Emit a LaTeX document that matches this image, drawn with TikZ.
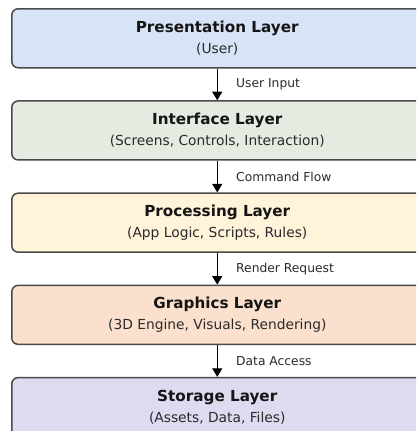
\documentclass[tikz,border=0pt]{standalone}
\usepackage{fontspec}
\setmainfont{DejaVu Sans}
\usetikzlibrary{arrows.meta}
\definecolor{bordc}{HTML}{4A4A4A}
\definecolor{cA}{HTML}{D7E3F6}
\definecolor{cB}{HTML}{E4ECE1}
\definecolor{cC}{HTML}{FFF3D9}
\definecolor{cD}{HTML}{FBE1CD}
\definecolor{cE}{HTML}{DDDBF0}
\definecolor{txt}{HTML}{151515}
\definecolor{subt}{HTML}{2A2A2A}
\newcommand{\ttl}[1]{{\fontsize{15.2}{18}\selectfont\bfseries #1}}
\newcommand{\sbt}[1]{{\fontsize{13.8}{18}\selectfont\color{subt} #1}}
\begin{document}
\begin{tikzpicture}[x=1pt,y=-1pt,
  layerbox/.style={draw=bordc, line width=1.5pt, rounded corners=6.5pt,
    minimum width=411pt, minimum height=59pt, align=center, inner sep=0pt,
    anchor=north west, text=txt, font=\fontsize{15}{18}\selectfont},
  flow/.style={-{Triangle[length=8.5pt,width=10pt]}, line width=1.2pt, draw=black},
  lbl/.style={font=\fontsize{12.3}{14}\selectfont, text=subt, right=15pt, midway}]
\useasboundingbox (0,0) rectangle (416,431);
\fill[white] (0,0) rectangle (416,431);
\begin{scope}
\clip (0,0) rectangle (416,431);
\node[layerbox, fill=cA] (pres) at (11,8) {\ttl{Presentation Layer}\\[3pt]\sbt{(User)}};
\node[layerbox, fill=cB] (intf) at (11,100.2) {\ttl{Interface Layer}\\[3pt]\sbt{(Screens, Controls, Interaction)}};
\node[layerbox, fill=cC] (proc) at (11,192.4) {\ttl{Processing Layer}\\[3pt]\sbt{(App Logic, Scripts, Rules)}};
\node[layerbox, fill=cD] (grap) at (11,284.6) {\ttl{Graphics Layer}\\[3pt]\sbt{(3D Engine, Visuals, Rendering)}};
\node[layerbox, fill=cE] (stor) at (11,376.8) {\ttl{Storage Layer}\\[3pt]\sbt{(Assets, Data, Files)}};
\draw[flow] (pres) -- (intf) node[lbl] {User Input};
\draw[flow] (intf) -- (proc) node[lbl] {Command Flow};
\draw[flow] (proc) -- (grap) node[lbl] {Render Request};
\draw[flow] (grap) -- (stor) node[lbl] {Data Access};
\end{scope}
\end{tikzpicture}
\end{document}
